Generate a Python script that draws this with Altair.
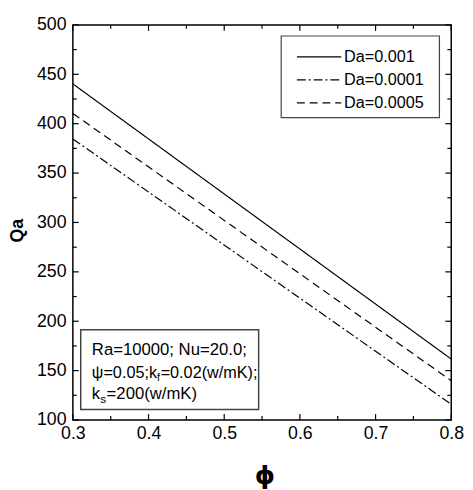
import altair as alt
import pandas as pd

# ---- data ----
phi = [0.3, 0.8]
series = ["Da=0.001", "Da=0.0001", "Da=0.0005"]
qa_da_0_001 = [440.3, 161.7]
qa_da_0_0001 = [384.6, 115.9]
qa_da_0_0005 = [410.4, 139.8]

x_major = [0.3, 0.4, 0.5, 0.6, 0.7, 0.8]
x_minor = [0.35, 0.45, 0.55, 0.65, 0.75]
y_major = [100, 150, 200, 250, 300, 350, 400, 450, 500]
y_minor = [125, 175, 225, 275, 325, 375, 425, 475]

dash_styles = [[1, 0], [9, 3, 2, 3], [8, 5]]

# legend placement (data coordinates)
legend_box = {"x": 0.5753, "x2": 0.7844, "y": 488.8, "y2": 406.2}
legend_row_y = [467.6, 444.3, 421.1]
legend_line_x = [0.5961, 0.6546]
legend_label_x = 0.6584

# annotation box (data coordinates) and its text pieces
box_x = [0.3104]
box_x2 = [0.5455]
box_y = [191.3]
box_y2 = [110.7]
ann_text = ["Ra=10000; Nu=20.0;", "\u03c8=0.05;k", "f", "=0.02(w/mK);", "k", "s", "=200(w/mK)"]
ann_x = [0.3251, 0.3251, 0.4113, 0.4160, 0.3251, 0.3361, 0.3446]
ann_y = [165.7, 142.5, 139.5, 142.5, 120.9, 117.6, 120.9]
ann_size = [17, 16.5, 11, 16.5, 17, 12, 17]

FONT = "Liberation Sans"
W, H = 385, 402

rows = []
for name, vals in zip(series, [qa_da_0_001, qa_da_0_0001, qa_da_0_0005]):
    for p, q in zip(phi, vals):
        rows.append({"phi": p, "Qa": q, "series": name})
df = pd.DataFrame(rows)

xscale = alt.Scale(domain=[0.3, 0.8], nice=False, zero=False)
yscale = alt.Scale(domain=[100, 500], nice=False, zero=False)
dscale = alt.Scale(domain=series, range=dash_styles)

main = alt.Chart(df).mark_line(color="black", strokeWidth=1.2).encode(
    x=alt.X("phi:Q", scale=xscale,
            axis=alt.Axis(values=x_major, format=".1f", ticks=False, tickSize=0, domain=False,
                          grid=False, labelFlush=False, labelOverlap=False,
                          labelFont=FONT, labelFontSize=18, labelColor="black", labelPadding=5,
                          title="\u03d5", titleFont="DejaVu Sans", titleFontSize=26,
                          titleFontWeight="bold", titleColor="black",
                          titleX=195, titleY=57, titleBaseline="middle", titleAlign="center")),
    y=alt.Y("Qa:Q", scale=yscale,
            axis=alt.Axis(values=y_major, format="d", ticks=False, tickSize=0, domain=False,
                          grid=False, labelFlush=False, labelOverlap=False,
                          labelFont=FONT, labelFontSize=18, labelColor="black", labelPadding=7,
                          title="Qa", titleFont=FONT, titleFontSize=18, titleFontWeight="bold",
                          titleColor="black", titleAngle=270, titleX=-56.5, titleY=209,
                          titleBaseline="middle", titleAlign="center")),
    strokeDash=alt.StrokeDash("series:N", scale=dscale, legend=None),
    detail="series:N",
)


def xticks(values, y0, y1):
    return alt.Chart(pd.DataFrame({"v": values})).mark_rule(color="black", strokeWidth=1.2).encode(
        x=alt.X("v:Q", scale=xscale, axis=None), y=alt.value(y0), y2=alt.value(y1))


def yticks(values, x0, x1):
    return alt.Chart(pd.DataFrame({"v": values})).mark_rule(color="black", strokeWidth=1.2).encode(
        y=alt.Y("v:Q", scale=yscale, axis=None), x=alt.value(x0), x2=alt.value(x1))


tick_layers = [
    xticks(x_major, H, H - 6), xticks(x_minor, H, H - 4),
    xticks(x_major, 0, 6), xticks(x_minor, 0, 4),
    yticks(y_major, 0, 6), yticks(y_minor, 0, 4),
    yticks(y_major, W, W - 6), yticks(y_minor, W, W - 4),
]

# ---- legend ----
lbox = alt.Chart(pd.DataFrame([legend_box])).mark_rect(
    fill="white", stroke="#444444", strokeWidth=1.2).encode(
    x=alt.X("x:Q", scale=xscale, axis=None), x2="x2:Q",
    y=alt.Y("y:Q", scale=yscale, axis=None), y2="y2:Q",
)
leg_df = pd.DataFrame({"series": series, "y": legend_row_y,
                       "x0": [legend_line_x[0]] * 3, "x1": [legend_line_x[1]] * 3,
                       "lx": [legend_label_x] * 3})
lsym = alt.Chart(leg_df).mark_rule(color="black", strokeWidth=1.2).encode(
    x=alt.X("x0:Q", scale=xscale, axis=None), x2="x1:Q",
    y=alt.Y("y:Q", scale=yscale, axis=None),
    strokeDash=alt.StrokeDash("series:N", scale=dscale, legend=None),
)
llab = alt.Chart(leg_df).mark_text(align="left", baseline="middle", font=FONT, fontSize=16.5,
                                   color="black").encode(
    x=alt.X("lx:Q", scale=xscale, axis=None),
    y=alt.Y("y:Q", scale=yscale, axis=None),
    text="series:N",
)

# ---- annotation ----
box_df = pd.DataFrame({"x": box_x, "x2": box_x2, "y": box_y, "y2": box_y2})
box = alt.Chart(box_df).mark_rect(fill="white", fillOpacity=0, stroke="#444444", strokeWidth=1.5).encode(
    x=alt.X("x:Q", scale=xscale, axis=None), x2="x2:Q",
    y=alt.Y("y:Q", scale=yscale, axis=None), y2="y2:Q",
)

ann_df = pd.DataFrame({"t": ann_text, "x": ann_x, "y": ann_y, "s": ann_size})
ann = alt.Chart(ann_df).mark_text(align="left", baseline="alphabetic", font=FONT, color="black").encode(
    x=alt.X("x:Q", scale=xscale, axis=None),
    y=alt.Y("y:Q", scale=yscale, axis=None),
    text="t:N",
    size=alt.Size("s:Q", scale=None, legend=None),
)

chart = alt.layer(main, *tick_layers, lbox, lsym, llab, box, ann).resolve_axis(
    x="independent", y="independent"
).properties(
    width=W, height=H,
    autosize=alt.AutoSizeParams(type="none"),
    padding={"left": 66, "top": 13, "right": 14, "bottom": 67},
).configure_view(stroke="black", strokeWidth=1.5)

chart.save("out.html", embed_options={"renderer": "svg", "actions": False})
